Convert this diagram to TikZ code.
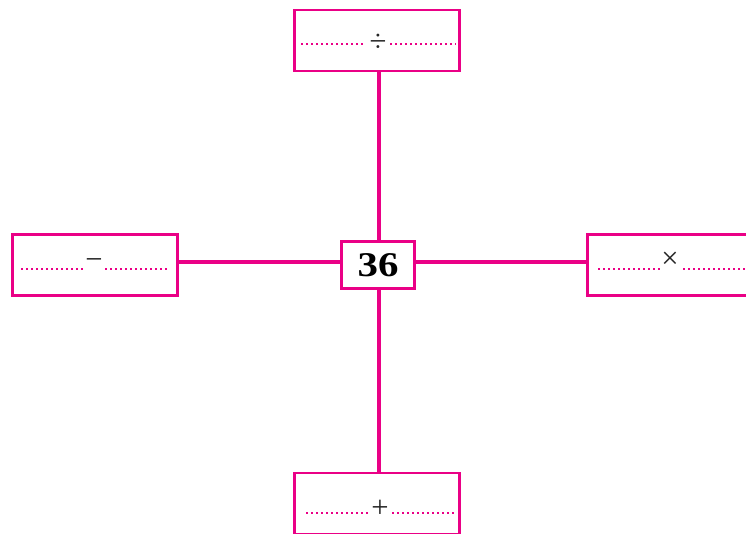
\documentclass[tikz,border=0pt]{standalone}
\usepackage{fontspec}
\setmainfont{Liberation Serif}
\newfontfamily\numfont[FakeStretch=1.18]{Liberation Serif}
\usepackage{xcolor}
\usepackage{tikz}

\definecolor{opink}{RGB}{234,0,134}

\begin{document}
\begin{tikzpicture}[x=0.75pt,y=-0.75pt,
  opbox/.style={draw=opink, line width=1.8pt, fill=white, minimum width=124pt, minimum height=45.5pt, inner sep=0pt},
  numbox/.style={draw=opink, line width=1.8pt, fill=white, minimum width=55pt, minimum height=35.5pt, inner sep=0pt, font=\numfont\fontsize{26}{30}\selectfont\bfseries},
  link/.style={draw=opink, line width=2.4pt},
  blank/.style={opink, line width=1.5pt, dash pattern=on 1.5pt off 2.25pt},
  sym/.style={inner sep=0pt, text=black!85, font=\fontsize{23}{26}\selectfont}]
\useasboundingbox (0,0) rectangle (746,533);
\clip (0,0) rectangle (746,533);

% boxes
\node[numbox] (num) at (378,265) {36};
\node[opbox] (divbox) at (377,40.5) {};
\node[opbox] (subbox) at (95,265) {};
\node[opbox] (mulbox) at (670,265) {};
\node[opbox] (addbox) at (377,503.5) {};

% connectors
\draw[link] ([xshift=0.75pt]num.north) -- ([xshift=0.75pt]num.north |- divbox.south);
\draw[link] ([xshift=0.75pt]num.south) -- ([xshift=0.75pt]num.south |- addbox.north);
\draw[link] ([yshift=2.25pt]subbox.east) -- ([yshift=2.25pt]num.west);
\draw[link] ([yshift=2.25pt]num.east) -- ([yshift=2.25pt]mulbox.west);

% signs
\node[sym] (divsign) at (378,42.5) {÷};
\node[sym] (subsign) at (94,264.5) {−};
\node[sym] (mulsign) at (670,260) {×};
\node[sym] (addsign) at (380,509) {+};

% dotted blanks
\draw[blank] (301,43.5) -- (366,43.5);
\draw[blank] (390,43.5) -- (456,43.5);
\draw[blank] (21,268.5) -- (83,268.5);
\draw[blank] (105,268.5) -- (167,268.5);
\draw[blank] (598,268.5) -- (660,268.5);
\draw[blank] (683,268.5) -- (746,268.5);
\draw[blank] (306,513) -- (368,513);
\draw[blank] (392,513) -- (456,513);
\end{tikzpicture}
\end{document}
